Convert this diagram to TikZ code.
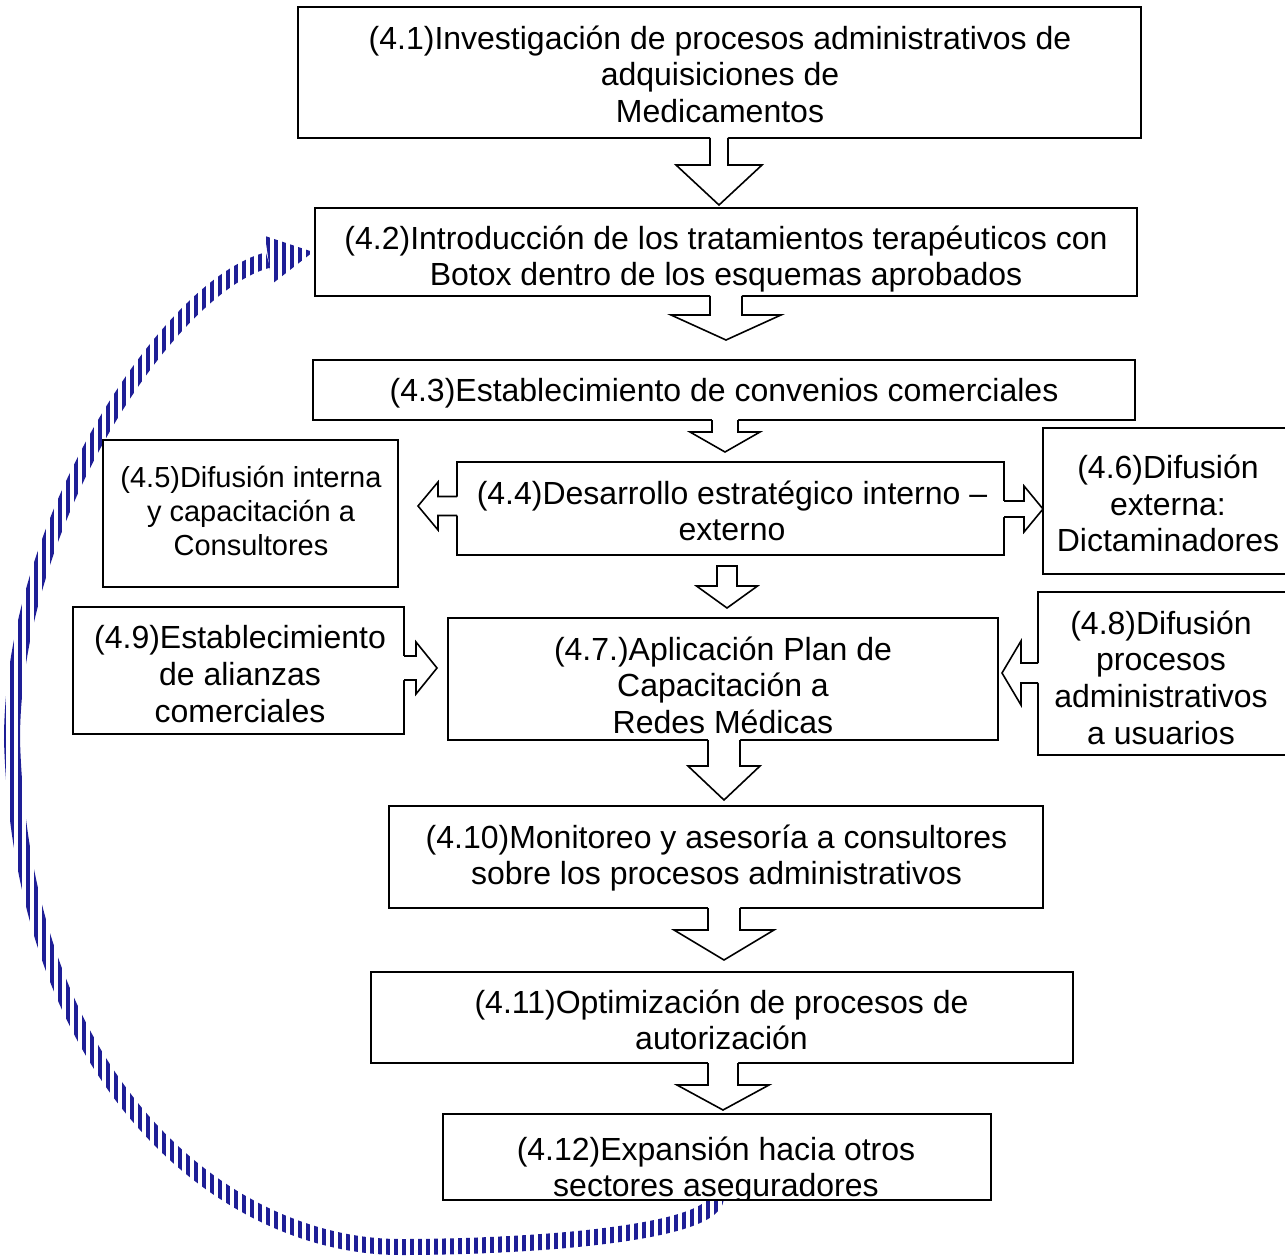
\documentclass[tikz,border=0pt]{standalone}
\usepackage{fontspec}
\setmainfont{Liberation Sans}
\usetikzlibrary{calc,patterns.meta,backgrounds}
\definecolor{bandblue}{RGB}{30,30,150}

\tikzset{
  box/.style={draw=black, fill=white, line width=1.8pt, rectangle, inner sep=0pt, outer sep=0pt},
  txt/.style={align=center, inner sep=0pt, font={\fontsize{32}{36.6}\selectfont}},
  txtsmall/.style={align=center, inner sep=0pt, font={\fontsize{29}{33.6}\selectfont}},
  arrline/.style={draw=black, line width=1.6pt, line join=miter},
  whitestripes/.style={pattern={Lines[angle=90,distance=8pt,line width=4.95pt]}, pattern color=white},
}

% open-top block arrow pointing down: from, to, cx, shaft hw, head hw, head top y, gap
\newcommand{\bdown}[7]{%
  \fill[white] let \p1=(#1.south), \p2=(#2.north) in
    ({#3pt-#4pt},{\y1+1.5pt}) -- ({#3pt-#4pt},{-#6pt}) -- ({#3pt-#5pt},{-#6pt}) -- ({#3pt},{\y2+#7pt})
    -- ({#3pt+#5pt},{-#6pt}) -- ({#3pt+#4pt},{-#6pt}) -- ({#3pt+#4pt},{\y1+1.5pt}) -- cycle;
  \draw[arrline] let \p1=(#1.south), \p2=(#2.north) in
    ({#3pt-#4pt},{\y1}) -- ({#3pt-#4pt},{-#6pt}) -- ({#3pt-#5pt},{-#6pt}) -- ({#3pt},{\y2+#7pt})
    -- ({#3pt+#5pt},{-#6pt}) -- ({#3pt+#4pt},{-#6pt}) -- ({#3pt+#4pt},{\y1});
}
% closed block arrow pointing down: from, to, cx, shaft hw, head hw, head top y, gap, top gap
\newcommand{\bdownc}[8]{%
  \draw[arrline, fill=white] let \p1=(#1.south), \p2=(#2.north) in
    ({#3pt-#4pt},{\y1-#8pt}) -- ({#3pt-#4pt},{-#6pt}) -- ({#3pt-#5pt},{-#6pt}) -- ({#3pt},{\y2+#7pt})
    -- ({#3pt+#5pt},{-#6pt}) -- ({#3pt+#4pt},{-#6pt}) -- ({#3pt+#4pt},{\y1-#8pt}) -- cycle;
}
% open-tail block arrow pointing left: from, to, cy, shaft hw, head hw, head base x, gap
\newcommand{\bleft}[7]{%
  \fill[white] let \p1=(#1.west), \p2=(#2.east) in
    ({\x1+1.5pt},{-#3pt+#4pt}) -- ({#6pt},{-#3pt+#4pt}) -- ({#6pt},{-#3pt+#5pt}) -- ({\x2+#7pt},{-#3pt})
    -- ({#6pt},{-#3pt-#5pt}) -- ({#6pt},{-#3pt-#4pt}) -- ({\x1+1.5pt},{-#3pt-#4pt}) -- cycle;
  \draw[arrline] let \p1=(#1.west), \p2=(#2.east) in
    ({\x1},{-#3pt+#4pt}) -- ({#6pt},{-#3pt+#4pt}) -- ({#6pt},{-#3pt+#5pt}) -- ({\x2+#7pt},{-#3pt})
    -- ({#6pt},{-#3pt-#5pt}) -- ({#6pt},{-#3pt-#4pt}) -- ({\x1},{-#3pt-#4pt});
}
% open-tail block arrow pointing right: from, to, cy, shaft hw, head hw, head base x, gap
\newcommand{\bright}[7]{%
  \fill[white] let \p1=(#1.east), \p2=(#2.west) in
    ({\x1-1.5pt},{-#3pt+#4pt}) -- ({#6pt},{-#3pt+#4pt}) -- ({#6pt},{-#3pt+#5pt}) -- ({\x2-#7pt},{-#3pt})
    -- ({#6pt},{-#3pt-#5pt}) -- ({#6pt},{-#3pt-#4pt}) -- ({\x1-1.5pt},{-#3pt-#4pt}) -- cycle;
  \draw[arrline] let \p1=(#1.east), \p2=(#2.west) in
    ({\x1},{-#3pt+#4pt}) -- ({#6pt},{-#3pt+#4pt}) -- ({#6pt},{-#3pt+#5pt}) -- ({\x2-#7pt},{-#3pt})
    -- ({#6pt},{-#3pt-#5pt}) -- ({#6pt},{-#3pt-#4pt}) -- ({\x1},{-#3pt-#4pt});
}

\begin{document}
\begin{tikzpicture}[x=1pt, y=-1pt]
\useasboundingbox (0,0) rectangle (1285,1257);

% boxes
\node[box, minimum width=843pt, minimum height=131pt] (n1) at (719.5,72.5) {};
\node[box, minimum width=822pt, minimum height=88pt] (n2) at (726,252) {};
\node[box, minimum width=822pt, minimum height=60pt] (n3) at (724,390) {};
\node[box, minimum width=547pt, minimum height=93pt] (n4) at (730.5,508.5) {};
\node[box, minimum width=295pt, minimum height=147pt] (n5) at (250.5,513.5) {};
\node[box, minimum width=250pt, minimum height=146pt] (n6) at (1168,501) {};
\node[box, minimum width=550pt, minimum height=122pt] (n7) at (723,679) {};
\node[box, minimum width=248pt, minimum height=163pt] (n8) at (1162,673.5) {};
\node[box, minimum width=331pt, minimum height=127pt] (n9) at (238.5,670.5) {};
\node[box, minimum width=654pt, minimum height=102pt] (n10) at (716,857) {};
\node[box, minimum width=702pt, minimum height=91pt] (n11) at (722,1017.5) {};
\node[box, minimum width=548pt, minimum height=86pt] (n12) at (717,1157) {};

% striped curved feedback arrow, under the boxes
\begin{scope}[on background layer]
\draw[bandblue, line width=16pt]
  ($(n12.south)+(-1,-2)$) .. controls (712,1235) and (520,1247) .. (400,1247)
  .. controls (230,1247) and (22,1090) .. (12,740)
  .. controls (12,520) and (170,285) .. ($(n2.west)+(-47,8)$);
\fill[bandblue] ($(n2.west)+(-50,-16)$) -- ($(n2.west)+(-2,0)$) -- ($(n2.west)+(-43,32)$) -- cycle;
\fill[whitestripes] (-5,225) rectangle (322,1262);
\fill[whitestripes] (322,1188) rectangle (732,1262);
\end{scope}

% texts
\node[txt] (t1) at (720,74) {(4.1)Investigación de procesos administrativos de\\adquisiciones de\\Medicamentos};
\node[txt] (t2) at (726,259) {(4.2)Introducción de los tratamientos terapéuticos con\\Botox dentro de los esquemas aprobados};
\node[txt] (t3) at (724,393) {(4.3)Establecimiento de convenios comerciales};
\node[txt] (t4) at (732,511) {(4.4)Desarrollo estratégico interno –\\externo};
\node[txtsmall] (t5) at (251,511) {(4.5)Difusión interna\\y capacitación a\\Consultores};
\node[txt] (t6) at (1168,503.5) {(4.6)Difusión\\externa:\\Dictaminadores};
\node[txt] (t7) at (723,685) {(4.7.)Aplicación Plan de\\Capacitación a\\Redes Médicas};
\node[txt] (t8) at (1161,677.5) {(4.8)Difusión\\procesos\\administrativos\\a usuarios};
\node[txt] (t9) at (240,674) {(4.9)Establecimiento\\de alianzas\\comerciales};
\node[txt] (t10) at (716.5,858) {(4.10)Monitoreo y asesoría a consultores\\sobre los procesos administrativos};
\node[txt] (t11) at (721.5,1020) {(4.11)Optimización de procesos de\\autorización};
\begin{scope}
  \clip (n12.south west) rectangle (n12.north east);
  \node[txt] (t12) at (716,1170) {(4.12)Expansión hacia otros\\sectores aseguradores};
\end{scope}

% block arrows
\bdown{n1}{n2}{719}{9}{43}{165}{3}
\bdown{n2}{n3}{726}{16}{55}{315}{20}
\bdown{n3}{n4}{725}{13}{35}{432}{10}
\bdownc{n4}{n7}{727}{10}{30.5}{586}{10}{11}
\bdown{n7}{n10}{724}{16}{36}{766}{6}
\bdown{n10}{n11}{724}{16}{50}{930}{12}
\bdown{n11}{n12}{723}{15}{46}{1085}{4}
\bleft{n4}{n5}{506}{9.5}{24}{438}{20}
\bright{n4}{n6}{509}{8}{23}{1024}{0}
\bright{n9}{n7}{668}{12}{26}{416}{11}
\bleft{n8}{n7}{673}{10}{32}{1021}{4}
\end{tikzpicture}
\end{document}
